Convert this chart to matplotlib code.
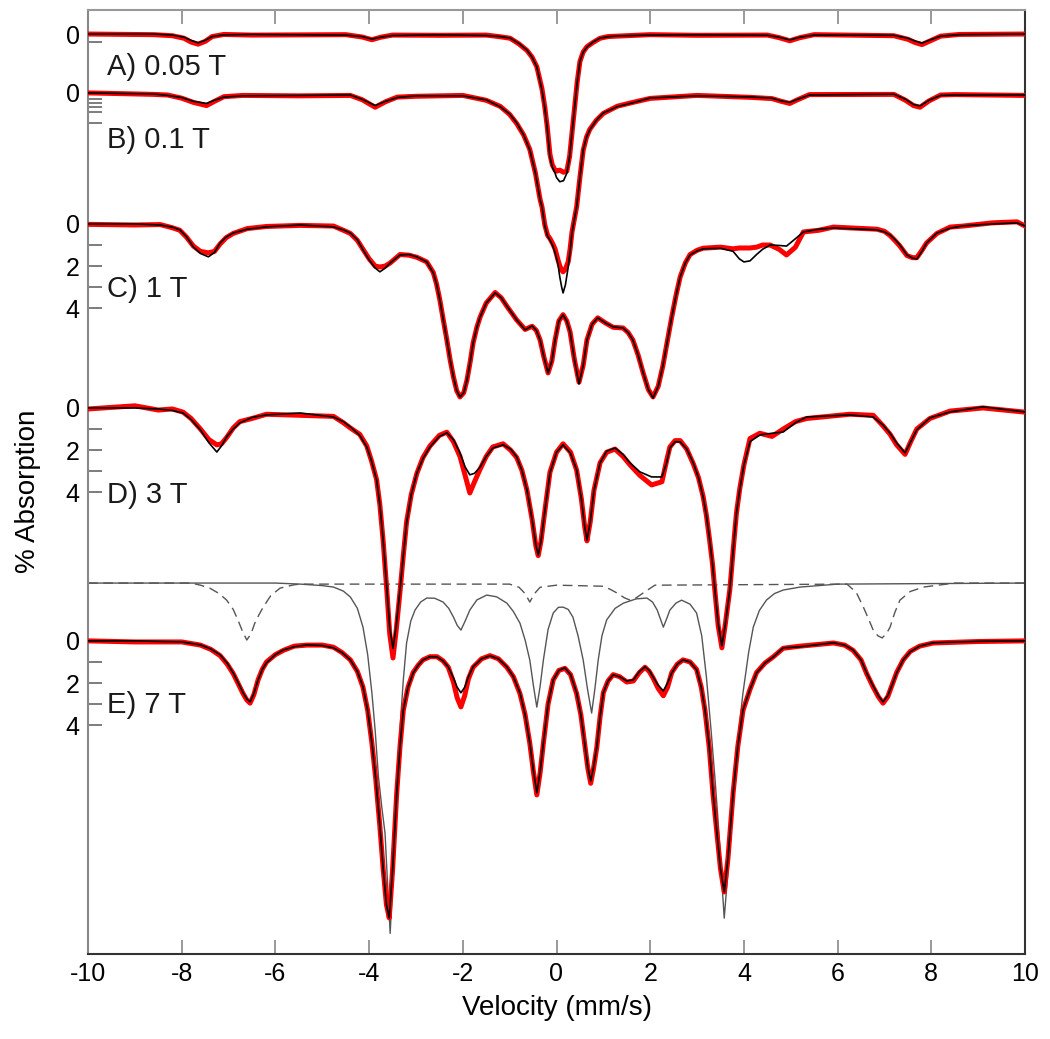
import numpy as np
import matplotlib.pyplot as plt

plt.rcParams['font.family'] = ['Liberation Sans', 'DejaVu Sans']
plt.rcParams['axes.unicode_minus'] = False

# velocity (mm/s) and absorption (%), relative to each baseline
a_vel = [-10, -8.6, -8.2, -7.95, -7.8, -7.65, -7.5, -7.35, -7.1, -6.5,
         -4.5, -4.15, -3.94, -3.75, -3.5, -2.5, -1.5, -1.2, -0.99, -0.8,
         -0.63, -0.52, -0.42, -0.31, -0.25, -0.2, -0.14, -0.09, -0.03, 0.0,
         0.07, 0.15, 0.22, 0.28, 0.33, 0.39, 0.44, 0.5, 0.57, 0.65,
         0.78, 0.93, 1.1, 1.29, 2.0, 3.0, 4.5, 4.75, 4.98, 5.2,
         5.5, 7.2, 7.5, 7.65, 7.8, 7.95, 8.2, 8.6, 10]
a_fit = [0, 0, 0.05, 0.15, 0.3, 0.42, 0.3, 0.12, 0.04, 0.02,
         0.05, 0.12, 0.24, 0.15, 0.07, 0.04, 0.07, 0.12, 0.19, 0.45,
         0.76, 1.1, 1.56, 2.65, 3.5, 4.41, 5.83, 6.3, 6.6, 6.8,
         7.0, 6.95, 6.6, 5.8, 4.69, 3.4, 2.32, 1.3, 0.85, 0.62,
         0.38, 0.19, 0.13, 0.09, 0.05, 0.04, 0.06, 0.15, 0.28, 0.15,
         0.05, 0.06, 0.2, 0.33, 0.43, 0.3, 0.1, 0.03, 0]
a_obs = [0, 0.03, 0.08, 0.2, 0.38, 0.48, 0.35, 0.12, 0.02, 0.05,
         0.03, 0.14, 0.27, 0.15, 0.05, 0.06, 0.05, 0.13, 0.2, 0.47,
         0.78, 1.1, 1.55, 2.6, 3.45, 4.35, 5.7, 6.2, 6.45, 6.5,
         6.45, 6.55, 6.5, 5.8, 4.7, 3.4, 2.3, 1.3, 0.85, 0.6,
         0.4, 0.2, 0.12, 0.1, 0.03, 0.06, 0.05, 0.17, 0.32, 0.17,
         0.03, 0.08, 0.25, 0.4, 0.5, 0.35, 0.1, 0.02, 0]

b_vel = [-10, -8.6, -8.3, -8.0, -7.75, -7.47, -7.3, -7.1, -6.7, -5.5,
         -4.4, -4.15, -3.87, -3.65, -3.4, -3.0, -2.0, -1.5, -1.2, -1.0,
         -0.85, -0.7, -0.57, -0.45, -0.35, -0.31, -0.25, -0.19, -0.14, -0.08,
         -0.03, 0.03, 0.07, 0.11, 0.14, 0.19, 0.25, 0.29, 0.33, 0.38,
         0.43, 0.5, 0.57, 0.64, 0.71, 0.85, 1.0, 1.3, 1.63, 2.0,
         3.0, 4.13, 4.6, 4.8, 4.98, 5.15, 5.4, 7.2, 7.45, 7.62,
         7.76, 7.95, 8.2, 8.5, 10]
b_fit = [0, 0.05, 0.12, 0.22, 0.4, 0.5, 0.35, 0.2, 0.14, 0.12,
         0.1, 0.3, 0.6, 0.4, 0.22, 0.14, 0.14, 0.33, 0.66, 1.0,
         1.42, 2.0, 2.7, 3.8, 5.07, 5.4, 6.3, 6.8, 6.97, 7.25,
         7.58, 8.1, 8.72, 9.2, 9.48, 9.1, 8.25, 7.5, 6.64, 6.0,
         5.4, 4.0, 2.7, 2.1, 1.75, 1.3, 0.95, 0.65, 0.47, 0.24,
         0.14, 0.19, 0.25, 0.38, 0.45, 0.3, 0.1, 0.06, 0.3, 0.55,
         0.62, 0.35, 0.12, 0.1, 0.1]
b_obs = [0, 0.07, 0.1, 0.25, 0.45, 0.6, 0.4, 0.18, 0.12, 0.14,
         0.12, 0.32, 0.68, 0.42, 0.2, 0.16, 0.12, 0.35, 0.64, 1.02,
         1.45, 2.0, 2.68, 3.8, 5.05, 5.4, 6.25, 6.75, 6.9, 7.15,
         7.4, 7.9, 8.2, 8.4, 8.48, 8.35, 8.0, 7.4, 6.6, 6.0,
         5.4, 4.0, 2.72, 2.1, 1.73, 1.3, 0.97, 0.63, 0.45, 0.26,
         0.12, 0.21, 0.27, 0.4, 0.5, 0.32, 0.08, 0.07, 0.35, 0.6,
         0.68, 0.38, 0.1, 0.08, 0.12]

c_vel = [-10, -9.0, -8.46, -8.2, -8.04, -7.9, -7.75, -7.6, -7.43, -7.3,
         -7.18, -7.05, -6.9, -6.6, -6.19, -5.47, -4.76, -4.55, -4.4, -4.25,
         -4.13, -4.0, -3.87, -3.77, -3.66, -3.55, -3.34, -3.15, -2.98, -2.77,
         -2.63, -2.56, -2.49, -2.42, -2.34, -2.27, -2.2, -2.13, -2.06, -1.98,
         -1.91, -1.84, -1.78, -1.7, -1.63, -1.5, -1.31, -1.18, -1.06, -0.85,
         -0.67, -0.52, -0.43, -0.35, -0.27, -0.18, -0.1, -0.03, 0.05, 0.14,
         0.22, 0.29, 0.38, 0.48, 0.57, 0.65, 0.76, 0.88, 1.05, 1.21,
         1.42, 1.53, 1.63, 1.74, 1.85, 1.96, 2.06, 2.17, 2.27, 2.37,
         2.46, 2.55, 2.64, 2.75, 2.85, 3.0, 3.13, 3.5, 3.77, 3.9,
         4.0, 4.13, 4.27, 4.4, 4.56, 4.75, 4.91, 5.1, 5.27, 5.6,
         5.91, 6.84, 7.0, 7.12, 7.23, 7.33, 7.48, 7.6, 7.69, 7.8,
         7.9, 8.12, 8.4, 8.68, 9.3, 9.83, 10]
c_fit = [0, 0.0, 0.05, 0.15, 0.28, 0.6, 1.09, 1.4, 1.56, 1.35,
         0.9, 0.62, 0.43, 0.25, 0.14, 0.05, 0.14, 0.28, 0.43, 0.75,
         1.23, 1.7, 2.09, 2.27, 2.1, 1.85, 1.47, 1.45, 1.56, 1.8,
         2.32, 2.85, 3.6, 4.5, 5.5, 6.45, 7.25, 7.9, 8.2, 8.0,
         7.39, 6.5, 5.64, 4.9, 4.41, 3.75, 3.27, 3.5, 3.89, 4.55,
         5.02, 4.83, 5.05, 5.5, 6.3, 7.06, 6.5, 5.5, 4.6, 4.31,
         4.6, 5.12, 6.4, 7.58, 6.7, 5.5, 4.75, 4.45, 4.7, 4.88,
         4.93, 5.15, 5.5, 6.2, 7.06, 7.85, 8.25, 7.7, 6.73, 5.5,
         4.41, 3.4, 2.51, 1.85, 1.47, 1.28, 1.18, 1.15, 1.3, 1.65,
         1.8, 1.75, 1.45, 1.2, 1.0, 1.02, 1.05, 0.7, 0.38, 0.25,
         0.19, 0.28, 0.38, 0.52, 0.75, 1.0, 1.47, 1.62, 1.66, 1.3,
         0.9, 0.43, 0.2, 0.09, 0.0, -0.05, 0.09]
c_obs = [0.02, 0.05, 0.03, 0.18, 0.3, 0.62, 1.05, 1.3, 1.37, 1.3,
         0.95, 0.65, 0.45, 0.22, 0.12, 0.07, 0.1, 0.3, 0.45, 0.78,
         1.2, 1.65, 2.0, 2.04, 2.0, 1.85, 1.45, 1.48, 1.58, 1.8,
         2.3, 2.85, 3.6, 4.5, 5.5, 6.45, 7.25, 7.9, 8.2, 8.0,
         7.39, 6.5, 5.64, 4.9, 4.41, 3.75, 3.25, 3.5, 3.9, 4.55,
         5.0, 4.85, 5.05, 5.5, 6.3, 7.06, 6.5, 5.5, 4.6, 4.3,
         4.6, 5.12, 6.4, 7.5, 6.7, 5.5, 4.75, 4.45, 4.7, 4.9,
         4.93, 5.15, 5.5, 6.2, 7.06, 7.85, 8.2, 7.7, 6.73, 5.5,
         4.41, 3.4, 2.51, 1.85, 1.45, 1.25, 1.15, 1.1, 1.18, 1.14,
         1.14, 1.14, 1.1, 1.0, 1.0, 1.2, 1.47, 1.1, 0.38, 0.3,
         0.15, 0.25, 0.35, 0.55, 0.8, 1.05, 1.5, 1.6, 1.6, 1.25,
         0.9, 0.45, 0.15, 0.1, -0.05, -0.1, 0.1]

d_vel = [-10, -9.0, -8.5, -8.2, -7.97, -7.8, -7.6, -7.42, -7.25, -7.15,
         -7.04, -6.9, -6.76, -6.5, -6.19, -5.47, -4.76, -4.55, -4.4, -4.2,
         -4.05, -3.95, -3.84, -3.77, -3.7, -3.62, -3.56, -3.49, -3.42, -3.34,
         -3.27, -3.2, -3.1, -2.98, -2.85, -2.7, -2.5, -2.34, -2.2, -2.06,
         -1.95, -1.85, -1.75, -1.63, -1.5, -1.36, -1.14, -0.98, -0.85, -0.74,
         -0.63, -0.52, -0.44, -0.39, -0.33, -0.25, -0.14, 0.0, 0.14, 0.3,
         0.43, 0.53, 0.6, 0.65, 0.72, 0.8, 0.93, 1.07, 1.25, 1.42,
         1.57, 1.78, 2.03, 2.25, 2.35, 2.42, 2.53, 2.64, 2.78, 2.92,
         3.03, 3.13, 3.2, 3.27, 3.33, 3.38, 3.45, 3.53, 3.6, 3.7,
         3.78, 3.84, 3.91, 4.0, 4.13, 4.34, 4.6, 4.84, 5.1, 5.34,
         6.26, 6.76, 6.97, 7.12, 7.26, 7.44, 7.56, 7.69, 7.97, 8.4,
         9.1, 10]
d_fit = [0, 0.0, 0.05, 0.12, 0.24, 0.55, 1.04, 1.65, 2.09, 1.8,
         1.37, 1.0, 0.71, 0.45, 0.33, 0.24, 0.43, 0.65, 0.9, 1.3,
         1.85, 2.5, 3.41, 4.6, 6.26, 8.6, 10.4, 11.4, 10.3, 8.6,
         7.0, 5.45, 4.1, 3.08, 2.4, 1.85, 1.35, 1.18, 1.5, 2.13,
         2.8, 3.17, 3.1, 2.8, 2.3, 1.9, 1.75, 1.95, 2.32, 2.95,
         3.89, 5.3, 6.5, 6.97, 6.3, 4.9, 3.08, 2.1, 1.75, 2.15,
         2.94, 4.3, 5.6, 6.26, 5.4, 3.9, 2.61, 2.05, 1.9, 2.2,
         2.61, 3.03, 3.27, 3.27, 2.6, 1.9, 1.6, 1.61, 1.95, 2.61,
         3.3, 4.22, 5.1, 6.26, 7.4, 8.6, 10.2, 11.28, 10.3, 8.6,
         6.5, 5.0, 3.89, 2.7, 1.6, 1.28, 1.2, 1.14, 0.7, 0.43,
         0.33, 0.43, 0.81, 1.2, 1.66, 2.13, 1.6, 1.04, 0.47, 0.19,
         -0.05, 0.19]
d_obs = [0.05, -0.1, 0.1, 0.05, 0.2, 0.5, 1.0, 1.5, 1.75, 1.7,
         1.4, 0.95, 0.65, 0.5, 0.3, 0.35, 0.4, 0.7, 0.95, 1.25,
         1.8, 2.5, 3.4, 4.6, 6.3, 8.7, 10.7, 11.85, 10.5, 8.7,
         7.0, 5.4, 4.1, 3.1, 2.35, 1.8, 1.3, 1.15, 1.6, 2.3,
         3.2, 4.03, 3.5, 2.9, 2.3, 1.85, 1.7, 2.0, 2.35, 2.95,
         3.9, 5.3, 6.55, 7.0, 6.3, 4.9, 3.05, 2.1, 1.7, 2.1,
         2.95, 4.3, 5.6, 6.3, 5.4, 3.9, 2.6, 2.1, 1.95, 2.3,
         2.7, 3.2, 3.65, 3.5, 2.5, 1.85, 1.55, 1.55, 1.95, 2.65,
         3.3, 4.2, 5.1, 6.3, 7.4, 8.65, 10.3, 11.37, 10.3, 8.6,
         6.5, 5.0, 3.85, 2.7, 1.45, 1.2, 1.35, 1.0, 0.65, 0.5,
         0.3, 0.35, 0.85, 1.25, 1.75, 2.2, 1.6, 1.0, 0.5, 0.15,
         0.0, 0.2]

e_vel = [-10, -9.0, -8.0, -7.6, -7.38, -7.18, -7.03, -6.9, -6.79, -6.69,
         -6.61, -6.54, -6.46, -6.37, -6.28, -6.19, -6.0, -5.83, -5.6, -5.33,
         -5.0, -4.76, -4.58, -4.4, -4.25, -4.13, -4.03, -3.94, -3.86, -3.77,
         -3.7, -3.63, -3.57, -3.5, -3.41, -3.34, -3.27, -3.17, -3.06, -2.95,
         -2.85, -2.7, -2.55, -2.42, -2.31, -2.2, -2.12, -2.04, -1.96, -1.88,
         -1.78, -1.6, -1.42, -1.24, -1.06, -0.92, -0.78, -0.67, -0.57, -0.49,
         -0.42, -0.35, -0.28, -0.18, -0.07, 0.05, 0.18, 0.3, 0.43, 0.52,
         0.61, 0.67, 0.73, 0.79, 0.86, 0.93, 1.0, 1.1, 1.21, 1.35,
         1.5, 1.64, 1.77, 1.89, 1.98, 2.06, 2.17, 2.28, 2.37, 2.46,
         2.58, 2.7, 2.85, 2.99, 3.09, 3.17, 3.26, 3.34, 3.42, 3.5,
         3.58, 3.66, 3.77, 3.87, 3.98, 4.13, 4.27, 4.45, 4.63, 4.84,
         5.2, 5.91, 6.15, 6.33, 6.5, 6.62, 6.75, 6.87, 6.97, 7.07,
         7.17, 7.26, 7.4, 7.55, 7.75, 8.04, 9.0, 10]
e_fit = [0, 0.0, 0.05, 0.19, 0.38, 0.66, 1.05, 1.52, 2.0, 2.46,
         2.75, 2.89, 2.5, 1.85, 1.35, 1.04, 0.65, 0.43, 0.28, 0.19,
         0.22, 0.33, 0.55, 0.9, 1.45, 2.18, 3.3, 4.83, 6.5, 8.77,
         10.8, 12.5, 13.13, 10.9, 7.2, 5.0, 3.27, 2.2, 1.52, 1.15,
         0.9, 0.75, 0.76, 0.95, 1.23, 1.75, 2.2, 2.46, 2.2, 1.7,
         1.23, 0.85, 0.71, 0.85, 1.23, 1.7, 2.46, 3.5, 4.83, 6.2,
         7.2, 6.2, 4.83, 3.0, 1.85, 1.4, 1.28, 1.6, 2.46, 3.5,
         5.02, 6.0, 6.64, 6.0, 5.02, 3.6, 2.46, 1.9, 1.61, 1.7,
         1.9, 1.85, 1.45, 1.23, 1.4, 1.71, 2.1, 2.37, 2.0, 1.52,
         1.1, 0.9, 1.0, 1.37, 2.2, 3.27, 5.0, 7.2, 9.0, 10.8,
         11.9, 10.3, 7.2, 5.0, 3.27, 2.3, 1.52, 1.05, 0.76, 0.33,
         0.28, 0.09, 0.2, 0.43, 0.9, 1.52, 2.1, 2.6, 2.89, 2.6,
         2.05, 1.52, 0.9, 0.52, 0.25, 0.09, 0.02, 0]
e_obs = [0, 0.05, 0.05, 0.2, 0.4, 0.7, 1.1, 1.55, 2.05, 2.5,
         2.8, 2.95, 2.55, 1.85, 1.35, 1.0, 0.65, 0.45, 0.25, 0.2,
         0.2, 0.3, 0.55, 0.9, 1.45, 2.2, 3.3, 4.85, 6.5, 8.8,
         10.8, 12.5, 13.13, 10.9, 7.2, 5.0, 3.3, 2.2, 1.5, 1.15,
         0.9, 0.75, 0.75, 0.95, 1.25, 1.95, 2.7, 3.13, 2.6, 1.8,
         1.25, 0.85, 0.7, 0.85, 1.25, 1.7, 2.5, 3.5, 4.85, 6.25,
         7.3, 6.25, 4.85, 3.0, 1.85, 1.4, 1.3, 1.6, 2.5, 3.5,
         5.05, 6.05, 6.75, 6.05, 5.05, 3.6, 2.45, 1.9, 1.6, 1.7,
         1.95, 1.9, 1.5, 1.25, 1.45, 1.75, 2.25, 2.6, 2.2, 1.5,
         1.1, 0.9, 1.0, 1.35, 2.2, 3.3, 5.05, 7.25, 9.05, 10.8,
         11.9, 10.3, 7.2, 5.0, 3.3, 2.3, 1.5, 1.05, 0.75, 0.35,
         0.25, 0.1, 0.2, 0.45, 0.9, 1.55, 2.15, 2.65, 2.95, 2.65,
         2.05, 1.5, 0.9, 0.5, 0.25, 0.1, 0.03, 0]

# 7 T sub-spectra: solid and dashed components
s_vel = [-10, -6.0, -5.47, -5.0, -4.76, -4.55, -4.4, -4.25, -4.13, -4.03,
         -3.94, -3.87, -3.8, -3.73, -3.66, -3.6, -3.55, -3.5, -3.44, -3.39,
         -3.34, -3.27, -3.2, -3.11, -3.02, -2.9, -2.77, -2.6, -2.42, -2.3,
         -2.2, -2.12, -2.04, -1.95, -1.85, -1.7, -1.49, -1.28, -1.06, -0.92,
         -0.78, -0.67, -0.57, -0.49, -0.42, -0.35, -0.28, -0.18, -0.07, 0.04,
         0.14, 0.25, 0.35, 0.46, 0.57, 0.66, 0.75, 0.82, 0.89, 0.97,
         1.07, 1.25, 1.43, 1.7, 1.93, 2.05, 2.15, 2.28, 2.35, 2.42,
         2.55, 2.67, 2.85, 2.99, 3.1, 3.2, 3.3, 3.38, 3.44, 3.49,
         3.54, 3.58, 3.63, 3.7, 3.77, 3.84, 3.91, 3.98, 4.1, 4.2,
         4.33, 4.48, 4.65, 4.84, 5.2, 6.0, 10]
s_abs = [0, 0.0, 0.05, 0.12, 0.19, 0.38, 0.66, 1.2, 2.09, 3.4,
         5.21, 7.0, 9.19, 10.6, 11.85, 14.5, 16.6, 14.3, 11.6, 9.0,
         6.87, 4.6, 2.84, 1.8, 1.28, 0.9, 0.71, 0.72, 0.9, 1.2,
         1.61, 2.0, 2.23, 1.8, 1.28, 0.8, 0.57, 0.65, 0.95, 1.35,
         1.9, 2.7, 3.65, 4.9, 5.88, 4.9, 3.65, 2.2, 1.42, 1.15,
         1.14, 1.25, 1.61, 2.5, 3.65, 5.0, 6.16, 5.0, 3.65, 2.5,
         1.75, 1.2, 0.95, 0.75, 0.71, 0.9, 1.28, 2.09, 1.7, 1.28,
         0.95, 0.81, 1.0, 1.42, 2.5, 4.46, 7.0, 9.19, 11.0, 12.65,
         14.5, 15.88, 14.5, 12.65, 10.5, 8.39, 6.6, 5.21, 3.3, 2.09,
         1.3, 0.81, 0.5, 0.33, 0.19, 0.05, 0]
q_vel = [-10, -7.8, -7.6, -7.4, -7.2, -7.04, -6.9, -6.8, -6.7, -6.61,
         -6.52, -6.44, -6.35, -6.26, -6.1, -5.9, -5.6, -5.47, -1.0, -0.8,
         -0.67, -0.57, -0.47, -0.35, 0.0, 1.0, 1.15, 1.29, 1.45, 1.57,
         1.7, 1.85, 2.1, 6.2, 6.4, 6.55, 6.66, 6.76, 6.86, 6.95,
         7.04, 7.12, 7.22, 7.33, 7.55, 7.83, 8.5, 10]
q_abs = [0, 0.0, 0.1, 0.24, 0.5, 0.81, 1.25, 1.75, 2.3, 2.7,
         2.4, 1.9, 1.5, 1.14, 0.6, 0.24, 0.08, 0.05, 0.05, 0.2,
         0.5, 0.9, 0.5, 0.2, 0.1, 0.15, 0.3, 0.47, 0.7, 0.81,
         0.7, 0.47, 0.1, 0.05, 0.45, 1.14, 1.7, 2.23, 2.5, 2.6,
         2.4, 2.09, 1.4, 0.81, 0.4, 0.19, 0, 0]

offsets = {'A': 1.14, 'B': 3.93, 'C': 10.14, 'D': 18.86, 'E': 29.9}
comp_offset = 27.16
spectra = {
    'A': (a_vel, a_fit, a_obs),
    'B': (b_vel, b_fit, b_obs),
    'C': (c_vel, c_fit, c_obs),
    'D': (d_vel, d_fit, d_obs),
    'E': (e_vel, e_fit, e_obs),
}
labels = {'A': 'A) 0.05 T', 'B': 'B) 0.1 T', 'C': 'C) 1 T', 'D': 'D) 3 T', 'E': 'E) 7 T'}
label_y = {'A': 2.70, 'B': 6.16, 'C': 13.22, 'D': 22.99, 'E': 32.94}

fig = plt.figure(figsize=(10.5, 10.39), dpi=100)
ax = fig.add_axes([0.0838, 0.0818, 0.8924, 0.9086])

ax.plot(s_vel, np.array(s_abs) + comp_offset, color='#555555', lw=1.0, zorder=2)
ax.plot(q_vel, np.array(q_abs) + comp_offset, color='#555555', lw=1.0, ls=(0, (7, 4)), zorder=2)

for key, (v, fit, obs) in spectra.items():
    off = offsets[key]
    ax.plot(v, np.array(obs) + off, color='#ff0000', lw=3.6, solid_joinstyle='round', zorder=3)
    ax.plot(v, np.array(fit) + off, color='black', lw=1.2, zorder=4)
    ax.text(-9.6, label_y[key], labels[key], fontsize=21, va='center', ha='left', color='#1a1a1a')

ax.set_xlim(-10, 10)
ax.set_ylim(44.74, 0)

# y ticks, one small scale per spectrum
tick_pos = [offsets['A'], offsets['A'] + 0.38,
            offsets['B'], offsets['B'] + 0.28, offsets['B'] + 0.47, offsets['B'] + 0.66,
            offsets['B'] + 0.9, offsets['B'] + 1.42]
tick_lab = ['0', '', '0', '', '', '', '', '']
for key in ['C', 'D', 'E']:
    for val in range(5):
        tick_pos.append(offsets[key] + val)
        tick_lab.append(str(val) if val % 2 == 0 else '')
ax.set_yticks(tick_pos)
ax.set_yticklabels(tick_lab)
ax.set_xticks(range(-10, 11, 2))

ax.tick_params(axis='y', direction='in', length=10, width=1.2, color='#666666', labelsize=18, pad=6)
ax.tick_params(axis='x', direction='in', length=10, width=1.2, color='#888888', labelsize=18,
               pad=6, top=True)

for side, col in [('left', '#888888'), ('top', '#999999'), ('right', '#333333'), ('bottom', '#333333')]:
    ax.spines[side].set_color(col)
    ax.spines[side].set_linewidth(1.5)

ax.set_xlabel('Velocity (mm/s)', fontsize=20, labelpad=6)
ax.set_ylabel('% Absorption', fontsize=20)
ax.yaxis.set_label_coords(-0.05, 0.49)

fig.savefig('out.png', dpi=100)
